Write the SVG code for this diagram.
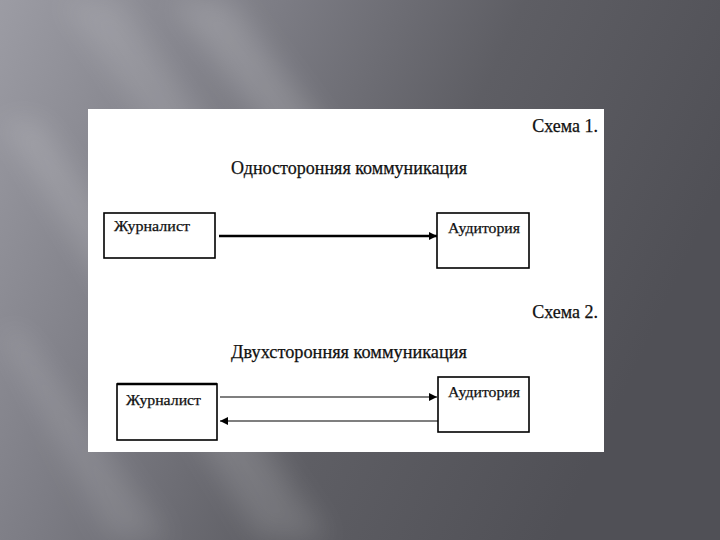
<svg xmlns="http://www.w3.org/2000/svg" width="720" height="540" viewBox="0 0 720 540">
<defs>
<linearGradient id="bg" x1="0" y1="0" x2="1" y2="0.35">
<stop offset="0" stop-color="#9c9ca4"/>
<stop offset="0.35" stop-color="#7c7c84"/>
<stop offset="0.65" stop-color="#5e5e64"/>
<stop offset="1" stop-color="#505056"/>
</linearGradient>
<filter id="blur" x="-50%" y="-50%" width="200%" height="200%"><feGaussianBlur stdDeviation="14"/></filter>
<marker id="ah" viewBox="0 0 10 10" refX="10" refY="5" markerWidth="10" markerHeight="8" markerUnits="userSpaceOnUse" orient="auto"><path d="M0,0 L10,5 L0,10 Z" fill="#000"/></marker>
<style>
.box{fill:#fff;stroke:#000;stroke-width:1.6}
.lbl{font-family:"Liberation Serif","Times New Roman",serif;font-size:15px;fill:#111;stroke:#111;stroke-width:0.25}
.ttl{font-family:"Liberation Serif","Times New Roman",serif;font-size:18px;fill:#111;stroke:#111;stroke-width:0.25}
.thin{stroke:#000;stroke-width:1.2;fill:none}
.thick{stroke:#000;stroke-width:2.4;fill:none}
</style>
</defs>
<rect width="720" height="540" fill="url(#bg)"/>
<g filter="url(#blur)" fill="#ffffff">
<polygon points="170,0 230,0 470,320 410,320" opacity="0.16"/>
<polygon points="0,120 40,120 330,540 260,540" opacity="0.14"/>
<polygon points="0,330 20,330 170,540 110,540" opacity="0.12"/>
<polygon points="60,0 120,0 260,200 200,200" opacity="0.12"/>
</g>
<rect x="88" y="109" width="516" height="343" fill="#ffffff"/>
<text class="ttl" x="598" y="132" text-anchor="end">Схема 1.</text>
<text class="ttl" x="349" y="174" text-anchor="middle" textLength="236" lengthAdjust="spacingAndGlyphs">Односторонняя коммуникация</text>
<text class="ttl" x="598" y="318" text-anchor="end">Схема 2.</text>
<text class="ttl" x="349" y="358" text-anchor="middle" textLength="236" lengthAdjust="spacingAndGlyphs">Двухсторонняя коммуникация</text>
<g id="connectors">
<line class="thick" x1="219" y1="236" x2="437" y2="236" marker-end="url(#ah)"/>
<line class="thin" x1="220" y1="397" x2="437" y2="397" marker-end="url(#ah)"/>
<line class="thin" x1="438" y1="421" x2="220" y2="421" marker-end="url(#ah)"/>
</g>
<g id="n-journalist-1">
<rect class="box" x="104" y="213" width="111" height="45" stroke-width="2"/>
<text class="lbl" x="114" y="231" textLength="76" lengthAdjust="spacingAndGlyphs">Журналист</text>
</g>
<g id="n-audience-1">
<rect class="box" x="437" y="213" width="92" height="55"/>
<text class="lbl" x="448" y="233" textLength="72" lengthAdjust="spacingAndGlyphs">Аудитория</text>
</g>
<g id="n-journalist-2">
<rect class="box" x="117" y="384" width="100" height="56"/>
<line x1="117" y1="384" x2="217" y2="384" stroke="#000" stroke-width="2.5"/>
<text class="lbl" x="126" y="405" textLength="75" lengthAdjust="spacingAndGlyphs">Журналист</text>
</g>
<g id="n-audience-2">
<rect class="box" x="438" y="377" width="91" height="55"/>
<text class="lbl" x="448" y="397" textLength="72" lengthAdjust="spacingAndGlyphs">Аудитория</text>
</g>
</svg>
